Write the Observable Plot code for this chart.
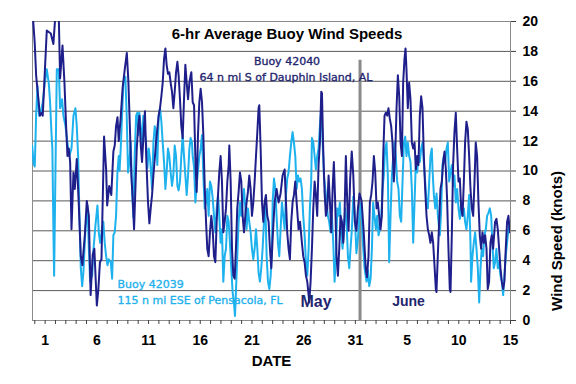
<!DOCTYPE html>
<html>
<head>
<meta charset="utf-8">
<script src="https://cdn.jsdelivr.net/npm/d3@7"></script>
<script src="https://cdn.jsdelivr.net/npm/@observablehq/plot@0.6"></script>
<style>
  html, body { margin: 0; padding: 0; background: #fff; }
</style>
</head>
<body>
<div id="chart"></div>
<script>
// Day number: May d -> d, June d -> 31 + d. Values: 6-hr average wind speed (knots)
const buoy42040 = [[-0.25,21.0],[0.0,18.5],[0.13,16.4],[0.35,14.8],[0.5,13.7],[0.68,13.9],[0.77,13.7],[1.16,19.4],[1.55,19.2],[1.8,18.5],[2.1,21.5],[2.3,21.0],[2.45,16.2],[2.68,18.4],[2.87,15.9],[3.03,13.0],[3.16,11.0],[3.29,11.5],[3.42,10.6],[3.55,6.1],[3.74,9.9],[3.87,8.8],[4.06,10.8],[4.26,7.7],[4.45,4.3],[4.6,3.7],[4.84,5.7],[5.03,8.0],[5.23,7.0],[5.4,1.7],[5.6,4.4],[5.76,4.8],[6.0,1.0],[6.15,2.1],[6.3,3.9],[6.45,4.1],[6.7,12.3],[6.9,10.1],[7.0,7.7],[7.2,9.0],[7.4,8.4],[7.6,11.3],[7.73,11.7],[7.86,13.0],[8.0,13.6],[8.12,12.0],[8.3,13.5],[8.5,15.6],[8.7,16.8],[8.9,17.9],[9.05,16.0],[9.21,12.6],[9.34,9.7],[9.47,8.1],[9.6,6.1],[9.73,8.8],[9.86,11.5],[10.0,13.0],[10.12,13.7],[10.25,11.7],[10.37,10.6],[10.5,12.2],[10.65,14.0],[10.8,10.5],[10.95,7.9],[11.08,6.5],[11.21,7.5],[11.34,8.4],[11.47,9.7],[11.6,10.8],[11.72,11.9],[11.85,12.8],[11.98,13.7],[12.11,14.2],[12.24,15.0],[12.37,15.9],[12.5,17.5],[12.63,18.2],[12.75,17.1],[12.88,16.5],[13.01,16.6],[13.14,15.9],[13.27,15.3],[13.4,14.2],[13.53,15.3],[13.66,16.6],[13.79,17.3],[13.91,16.4],[14.04,14.8],[14.17,13.0],[14.3,12.2],[14.43,14.8],[14.56,17.1],[14.69,15.9],[14.82,14.8],[14.95,15.9],[15.07,16.4],[15.14,16.6],[15.27,14.6],[15.4,14.4],[15.53,10.8],[15.65,8.6],[15.78,12.4],[15.91,14.6],[16.04,15.5],[16.17,14.6],[16.3,12.4],[16.43,9.0],[16.56,6.6],[16.68,4.8],[16.81,4.3],[16.94,5.9],[17.07,7.0],[17.2,6.1],[17.33,4.3],[17.46,3.9],[17.59,6.6],[17.72,8.4],[17.84,9.9],[17.97,11.0],[18.1,9.3],[18.23,5.9],[18.36,6.6],[18.49,7.5],[18.62,9.3],[18.75,10.4],[18.81,11.7],[18.94,9.3],[19.07,4.8],[19.2,3.0],[19.33,2.8],[19.45,4.8],[19.58,7.5],[19.71,8.6],[19.84,9.9],[19.97,9.3],[20.1,7.0],[20.23,5.9],[20.36,7.0],[20.48,7.9],[20.61,8.6],[20.74,9.7],[20.87,8.8],[21.0,7.0],[21.13,7.9],[21.26,9.3],[21.39,11.0],[21.52,12.6],[21.64,14.2],[21.71,14.4],[21.84,11.5],[21.97,7.9],[22.1,6.6],[22.22,7.9],[22.35,8.4],[22.48,7.0],[22.61,6.6],[22.74,4.8],[22.87,3.5],[23.0,5.5],[23.19,7.9],[23.38,8.8],[23.58,7.9],[23.77,8.5],[23.96,9.7],[24.16,10.1],[24.29,7.9],[24.41,5.9],[24.54,4.8],[24.67,4.1],[24.8,6.6],[24.93,7.9],[25.06,8.4],[25.19,9.3],[25.32,7.9],[25.51,6.1],[25.65,6.6],[25.83,5.2],[25.96,4.3],[26.09,3.9],[26.22,3.0],[26.35,2.6],[26.48,1.7],[26.54,1.2],[26.67,2.6],[26.8,4.8],[26.93,7.5],[27.06,9.3],[27.18,8.4],[27.31,7.0],[27.44,10.4],[27.57,11.9],[27.7,15.3],[27.77,15.2],[27.89,11.5],[28.02,8.6],[28.15,7.0],[28.28,7.5],[28.41,9.7],[28.54,7.9],[28.67,5.9],[28.8,8.8],[28.92,10.6],[29.05,7.9],[29.18,4.3],[29.31,3.0],[29.44,4.8],[29.57,7.0],[29.7,6.6],[29.83,5.2],[29.95,7.0],[30.08,11.0],[30.21,8.0],[30.34,6.0],[30.5,9.5],[30.65,11.3],[30.8,9.7],[30.95,6.6],[31.1,6.0],[31.25,7.5],[31.4,8.5],[31.6,8.0],[31.8,6.0],[32.0,3.5],[32.12,2.9],[32.27,4.3],[32.4,7.9],[32.53,8.4],[32.66,9.3],[32.79,11.0],[32.92,9.9],[33.05,7.5],[33.17,7.9],[33.3,7.0],[33.43,6.1],[33.56,7.0],[33.69,11.0],[33.82,13.7],[33.95,13.9],[34.08,13.7],[34.2,14.2],[34.33,13.5],[34.46,13.0],[34.59,11.9],[34.72,9.3],[34.85,11.0],[34.98,14.2],[35.11,16.4],[35.24,15.0],[35.37,11.9],[35.5,11.0],[35.62,15.9],[35.75,17.5],[35.85,18.2],[35.94,16.8],[36.07,14.2],[36.2,15.9],[36.33,14.8],[36.46,11.9],[36.59,11.5],[36.72,11.9],[36.85,10.1],[36.98,11.0],[37.1,10.4],[37.23,13.7],[37.36,15.0],[37.49,14.2],[37.62,11.0],[37.75,8.8],[37.88,7.0],[38.01,6.1],[38.14,5.7],[38.26,5.2],[38.39,5.9],[38.52,5.2],[38.65,3.7],[38.78,2.1],[38.84,1.9],[38.97,4.3],[39.1,6.6],[39.23,8.8],[39.36,9.3],[39.49,10.6],[39.62,11.3],[39.75,10.1],[39.87,8.1],[40.0,4.8],[40.13,2.1],[40.2,1.9],[40.33,5.9],[40.45,10.4],[40.58,12.6],[40.71,13.9],[40.84,11.5],[40.97,9.3],[41.1,9.5],[41.23,7.5],[41.36,7.0],[41.49,9.3],[41.61,11.9],[41.74,13.3],[41.87,12.8],[42.0,11.0],[42.13,8.8],[42.26,7.5],[42.39,7.0],[42.52,9.3],[42.64,11.9],[42.77,11.0],[42.9,7.9],[43.03,5.7],[43.16,4.8],[43.29,5.9],[43.42,5.2],[43.55,5.7],[43.68,4.8],[43.8,2.1],[43.93,2.6],[44.06,5.2],[44.19,5.7],[44.32,4.8],[44.51,6.6],[44.64,6.8],[44.77,6.1],[44.9,4.8],[45.03,3.5],[45.16,2.6],[45.29,2.1],[45.41,2.6],[45.54,4.8],[45.67,6.6],[45.8,7.0],[45.93,5.9]];

const buoy42039 = [[-0.25,11.7],[-0.12,10.5],[0.0,10.3],[0.13,13.7],[0.26,15.7],[0.42,13.7],[0.58,13.9],[0.77,14.6],[0.97,15.9],[1.16,16.8],[1.35,15.9],[1.48,14.6],[1.61,12.6],[1.7,11.5],[1.8,6.1],[1.87,3.0],[2.0,10.0],[2.13,16.8],[2.32,16.8],[2.45,14.2],[2.64,14.8],[2.77,13.7],[2.97,13.0],[3.16,11.9],[3.35,11.0],[3.55,11.5],[3.74,13.7],[3.93,14.2],[4.06,13.0],[4.19,11.0],[4.32,7.0],[4.45,3.5],[4.58,2.3],[4.7,3.2],[4.9,6.1],[5.1,7.7],[5.23,4.8],[5.35,2.6],[5.55,3.0],[5.68,4.8],[5.87,6.4],[6.06,7.7],[6.19,5.9],[6.32,5.2],[6.5,6.1],[6.63,6.6],[6.76,5.2],[6.9,4.3],[7.03,3.7],[7.16,4.1],[7.35,3.9],[7.48,2.8],[7.6,5.7],[7.73,5.9],[7.86,7.0],[7.99,9.9],[8.12,11.0],[8.2,10.0],[8.31,11.5],[8.44,13.7],[8.57,15.9],[8.76,16.3],[8.89,13.7],[9.02,9.9],[9.15,10.6],[9.28,11.9],[9.4,9.0],[9.53,6.9],[9.66,11.0],[9.8,13.7],[9.92,13.9],[10.0,12.4],[10.11,13.9],[10.24,13.0],[10.37,11.5],[10.5,13.7],[10.63,12.6],[10.76,11.9],[10.89,10.2],[11.02,11.5],[11.15,10.8],[11.34,8.8],[11.47,11.9],[11.6,13.0],[11.72,12.6],[11.85,10.4],[11.98,13.7],[12.11,14.2],[12.24,13.3],[12.37,11.9],[12.5,10.6],[12.63,8.8],[12.75,9.9],[12.88,11.5],[13.01,11.0],[13.14,9.9],[13.27,9.0],[13.4,9.7],[13.53,11.7],[13.66,11.0],[13.79,9.0],[13.91,8.7],[14.04,9.3],[14.17,11.0],[14.3,12.4],[14.43,11.0],[14.56,9.7],[14.69,8.4],[14.82,9.7],[14.95,11.5],[15.07,12.2],[15.2,11.9],[15.27,11.0],[15.4,10.3],[15.53,7.9],[15.65,9.0],[15.78,10.0],[15.91,11.0],[16.04,11.5],[16.17,12.4],[16.3,9.7],[16.43,7.5],[16.56,7.9],[16.68,8.8],[16.81,7.0],[16.94,9.3],[17.07,9.0],[17.2,8.2],[17.33,7.0],[17.46,5.9],[17.59,7.5],[17.72,8.4],[17.84,7.0],[17.97,5.2],[18.1,6.1],[18.23,2.6],[18.36,4.3],[18.49,4.8],[18.62,7.0],[18.75,6.6],[18.87,5.2],[19.0,3.5],[19.13,1.9],[19.26,1.2],[19.36,0.3],[19.45,1.9],[19.58,4.3],[19.71,6.6],[19.84,7.9],[19.97,7.0],[20.1,7.9],[20.23,8.8],[20.36,7.5],[20.48,6.1],[20.61,7.5],[20.74,6.6],[20.87,5.9],[21.0,4.8],[21.13,4.1],[21.26,4.8],[21.39,6.1],[21.52,4.8],[21.64,3.2],[21.77,2.6],[21.9,3.5],[22.03,4.8],[22.16,6.6],[22.29,7.9],[22.42,4.3],[22.55,2.6],[22.68,2.1],[22.81,3.0],[22.93,4.8],[23.0,7.9],[23.13,9.5],[23.26,8.8],[23.38,7.0],[23.51,5.2],[23.64,4.3],[23.77,6.1],[23.9,7.9],[24.03,7.0],[24.16,6.1],[24.29,8.4],[24.41,9.5],[24.54,9.9],[24.67,11.0],[24.8,11.9],[24.93,12.6],[25.06,11.9],[25.19,11.0],[25.32,8.8],[25.45,9.7],[25.57,9.3],[25.7,9.5],[25.83,8.8],[25.96,7.0],[26.09,5.7],[26.22,3.9],[26.35,3.0],[26.48,4.8],[26.6,7.5],[26.73,9.3],[26.8,12.2],[26.93,11.9],[27.06,11.0],[27.18,10.1],[27.31,11.0],[27.44,11.5],[27.57,13.0],[27.7,14.3],[27.83,11.9],[27.96,9.7],[28.09,8.8],[28.22,7.9],[28.34,7.0],[28.47,6.6],[28.6,5.9],[28.73,7.0],[28.86,5.2],[28.99,2.6],[29.12,4.3],[29.25,7.5],[29.37,7.0],[29.5,7.9],[29.63,5.9],[29.76,4.8],[29.89,5.9],[30.02,7.5],[30.15,6.6],[30.28,4.3],[30.41,3.5],[30.53,4.8],[30.66,6.1],[30.8,8.3],[30.95,7.0],[31.1,4.5],[31.25,5.5],[31.4,7.1],[31.55,7.9],[31.7,5.5],[31.89,3.5],[32.08,2.6],[32.2,3.4],[32.34,2.3],[32.47,2.8],[32.6,4.8],[32.72,7.9],[32.85,7.0],[32.98,6.1],[33.11,7.0],[33.24,5.7],[33.37,6.1],[33.5,7.0],[33.63,8.8],[33.75,9.7],[33.88,11.5],[34.01,11.9],[34.14,9.7],[34.27,3.9],[34.4,7.0],[34.53,9.7],[34.66,11.0],[34.79,11.9],[34.91,11.0],[35.04,9.3],[35.17,8.8],[35.3,7.0],[35.43,6.6],[35.56,9.3],[35.69,11.9],[35.82,12.3],[35.94,11.0],[36.07,11.9],[36.2,11.0],[36.33,10.6],[36.46,8.8],[36.59,5.2],[36.72,7.9],[36.85,10.6],[36.98,9.9],[37.1,11.0],[37.23,10.6],[37.36,11.5],[37.49,11.9],[37.62,10.6],[37.75,9.3],[37.88,7.9],[38.01,7.5],[38.14,9.3],[38.26,11.0],[38.39,11.5],[38.46,10.1],[38.59,8.4],[38.72,7.5],[38.85,8.5],[38.98,7.0],[39.17,5.7],[39.3,7.5],[39.42,10.4],[39.55,11.0],[39.68,10.5],[39.81,11.5],[39.94,11.9],[40.07,9.3],[40.2,9.9],[40.33,10.4],[40.45,9.0],[40.58,9.7],[40.71,7.9],[40.84,8.8],[40.97,7.5],[41.1,6.8],[41.23,7.9],[41.36,7.0],[41.49,7.5],[41.61,6.6],[41.74,6.1],[41.87,7.0],[42.0,8.4],[42.13,5.2],[42.19,2.6],[42.32,4.3],[42.45,5.2],[42.58,5.9],[42.71,4.8],[42.84,3.5],[42.97,1.2],[43.1,3.5],[43.22,4.8],[43.35,4.3],[43.48,5.7],[43.61,6.1],[43.74,7.0],[43.87,7.2],[44.0,7.5],[44.13,7.0],[44.25,5.2],[44.38,3.5],[44.51,3.9],[44.64,4.8],[44.77,3.5],[44.9,3.9],[45.03,3.0],[45.16,2.6],[45.29,1.7],[45.41,3.0],[45.54,4.3],[45.67,5.2],[45.8,6.1],[45.93,6.6]];

// Axis ticks and labels
const dayTicks = d3.range(0, 47);
const labelDays = [1, 6, 11, 16, 21, 26, 31, 36, 41, 46];
const labelTexts = ["1", "6", "11", "16", "21", "26", "31", "5", "10", "15"];
const speedTicks = [0, 2, 4, 6, 8, 10, 12, 14, 16, 18, 20];
const gridSpeeds = [2, 4, 6, 8, 10, 12, 14, 16, 18];
const monthBreak = [{day: 31.45, top: 17.4}];

const titleText = "6-hr Average Buoy Wind Speeds";
const xTitle = "DATE";
const yTitle = "Wind Speed (knots)";
const label42040 = ["Buoy 42040", "64 n mi S of Dauphin Island, AL"];
const label42039 = ["Buoy 42039", "115 n mi ESE of Pensacola, FL"];
const monthNames = ["May", "June"];

const navy = "#1f1f8c";
const cyan = "#1db1ee";
const textNavy = "#1f2670";

const toRows = arr => arr.map(([day, knots]) => ({day, knots}));
const labelOf = new Map(labelDays.map((d, i) => [d, labelTexts[i]]));

const annot = (color) => ({
  frameAnchor: "top-left", lineAnchor: "bottom", fontSize: 11,
  fontFamily: "'DejaVu Sans', sans-serif", fill: color, stroke: color, strokeWidth: 0.35
});

const chart = Plot.plot({
  width: 576,
  height: 384,
  marginLeft: 32,
  marginRight: 66,
  marginTop: 21,
  marginBottom: 64,
  style: {fontFamily: "'Liberation Sans', Arial, sans-serif", background: "white", overflow: "visible"},
  x: {type: "linear", domain: [-0.22, 46]},
  y: {type: "linear", domain: [0, 20]},
  marks: [
    Plot.ruleY(gridSpeeds, {stroke: "#5a5a5a", strokeWidth: 1}),
    Plot.frame({stroke: "#8c8c8c", strokeWidth: 1}),
    Plot.ruleX(monthBreak, {x: "day", y1: 0, y2: "top", stroke: "#8a8a8a", strokeWidth: 3}),
    Plot.line(toRows(buoy42039), {x: "day", y: "knots", stroke: cyan, strokeWidth: 2, clip: true}),
    Plot.line(toRows(buoy42040), {x: "day", y: "knots", stroke: navy, strokeWidth: 2, clip: true}),
    Plot.axisX(dayTicks, {tickSize: 4, tickFormat: () => "", stroke: "#404040", label: null}),
    Plot.axisX(labelDays, {tickSize: 0, tickPadding: 15, tickFormat: d => labelOf.get(d), fontSize: 14, fontWeight: "bold", fill: "black", label: null}),
    Plot.axisY(speedTicks, {anchor: "right", tickSize: 5, tickPadding: 7, stroke: "#404040", fontSize: 14, fontWeight: "bold", fill: "black", label: null}),
    Plot.text([xTitle], {frameAnchor: "bottom", dy: 41, lineAnchor: "middle", fontSize: 15, fontWeight: "bold", fill: "black"}),
    Plot.text([yTitle], {frameAnchor: "right", dx: 47, rotate: -90, lineAnchor: "middle", fontSize: 15, fontWeight: "bold", fill: "black"}),
    Plot.text([titleText], {frameAnchor: "top-left", dx: 254.5, dy: 17, textAnchor: "middle", lineAnchor: "bottom", fontSize: 15, fontWeight: "bold", fill: "black"}),
    Plot.text([label42040[0]], {...annot(textNavy), dx: 254.5, dy: 43, textAnchor: "middle"}),
    Plot.text([label42040[1]], {...annot(textNavy), dx: 253.5, dy: 59, textAnchor: "middle"}),
    Plot.text([label42039[0]], {...annot(cyan), dx: 85, dy: 266, textAnchor: "start"}),
    Plot.text([label42039[1]], {...annot(cyan), dx: 85, dy: 282.5, textAnchor: "start"}),
    Plot.text([monthNames[0]], {frameAnchor: "top-left", dx: 268, dy: 285, textAnchor: "start", lineAnchor: "bottom", fontSize: 16, fontWeight: "bold", fill: textNavy}),
    Plot.text([monthNames[1]], {frameAnchor: "top-left", dx: 359.7, dy: 284, textAnchor: "start", lineAnchor: "bottom", fontSize: 14, fontWeight: "bold", fill: textNavy})
  ]
});

document.getElementById("chart").appendChild(chart);
</script>
</body>
</html>
